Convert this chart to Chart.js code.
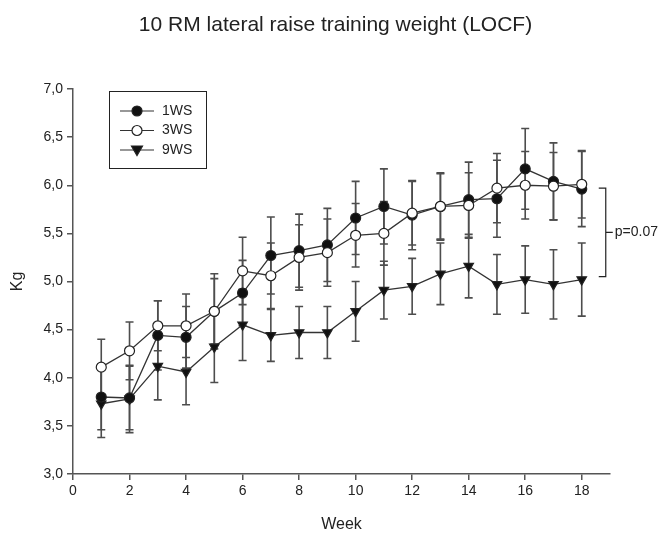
<!DOCTYPE html>
<html><head><meta charset="utf-8">
<script src="https://cdn.jsdelivr.net/npm/chart.js@4.4.0/dist/chart.umd.min.js"></script>
<style>html,body{margin:0;padding:0;background:#fff;} #wrap{width:671px;height:536px;}</style>
</head><body><div id="wrap"><canvas id="c" width="671" height="536"></canvas></div>
<script>
const weeks = [1,2,3,4,5,6,7,8,9,10,11,12,13,14,15,16,17,18];
const xTicks = [0,2,4,6,8,10,12,14,16,18];
const yTicks = [3.0,3.5,4.0,4.5,5.0,5.5,6.0,6.5,7.0];
const seriesNames = ['1WS','3WS','9WS'];
const mean1WS = [3.80,3.79,4.44,4.42,4.69,4.88,5.27,5.32,5.38,5.66,5.78,5.69,5.78,5.85,5.86,6.17,6.04,5.96];
const err1WS  = [0.34,0.33,0.36,0.32,0.39,0.34,0.40,0.38,0.38,0.38,0.39,0.36,0.35,0.39,0.40,0.42,0.40,0.39];
const mean3WS = [4.11,4.28,4.54,4.54,4.69,5.11,5.06,5.25,5.30,5.48,5.50,5.71,5.78,5.79,5.97,6.00,5.99,6.01];
const err3WS  = [0.29,0.30,0.26,0.33,0.34,0.35,0.34,0.34,0.35,0.33,0.33,0.33,0.34,0.34,0.36,0.35,0.35,0.35];
const mean9WS = [3.73,3.78,4.12,4.06,4.32,4.55,4.44,4.47,4.47,4.69,4.91,4.95,5.08,5.16,4.97,5.02,4.97,5.02];
const err9WS  = [0.35,0.35,0.35,0.34,0.37,0.37,0.27,0.27,0.27,0.31,0.30,0.29,0.32,0.33,0.31,0.35,0.36,0.38];
const chartTitle = '10 RM lateral raise training weight (LOCF)';
const pLabel = 'p=0.07';
const bracketX = 18.85, bracketTop = 5.97, bracketBottom = 5.05;

const FONT = "'Liberation Sans', Arial, sans-serif";
Chart.defaults.font.family = FONT;
Chart.defaults.color = '#222';

const series = [
  {name: seriesNames[0], values: mean1WS, err: err1WS, fill: '#111', style: 'circle', rot: 0, order: 1},
  {name: seriesNames[1], values: mean3WS, err: err3WS, fill: '#fff', style: 'circle', rot: 0, order: 0},
  {name: seriesNames[2], values: mean9WS, err: err9WS, fill: '#111', style: 'triangle', rot: 180, order: 2}
];

const errorBars = {
  id: 'errorBars',
  beforeDatasetsDraw(chart) {
    const {ctx, scales: {x, y}} = chart;
    ctx.save();
    ctx.strokeStyle = '#4d4d4d';
    ctx.lineWidth = 1.6;
    series.forEach(s => {
      s.values.forEach((v, i) => {
        const px = x.getPixelForValue(weeks[i]);
        const yt = y.getPixelForValue(v + s.err[i]);
        const yb = y.getPixelForValue(v - s.err[i]);
        ctx.beginPath();
        ctx.moveTo(px, yt); ctx.lineTo(px, yb);
        ctx.moveTo(px - 4, yt); ctx.lineTo(px + 4, yt);
        ctx.moveTo(px - 4, yb); ctx.lineTo(px + 4, yb);
        ctx.stroke();
      });
    });
    ctx.restore();
  }
};

const extras = {
  id: 'extras',
  afterDraw(chart) {
    const {ctx, scales: {x, y}} = chart;
    ctx.save();
    // title centred on the canvas
    ctx.fillStyle = '#222';
    ctx.font = '21px ' + FONT;
    ctx.textAlign = 'center';
    ctx.textBaseline = 'middle';
    ctx.fillText(chartTitle, chart.width / 2, 25);
    // bracket
    const bx = x.getPixelForValue(bracketX);
    const bt = y.getPixelForValue(bracketTop);
    const bb = y.getPixelForValue(bracketBottom);
    const bm = (bt + bb) / 2;
    ctx.strokeStyle = '#222';
    ctx.lineWidth = 1.2;
    ctx.beginPath();
    ctx.moveTo(bx - 7, bt); ctx.lineTo(bx, bt); ctx.lineTo(bx, bb); ctx.lineTo(bx - 7, bb);
    ctx.moveTo(bx, bm); ctx.lineTo(bx + 7, bm);
    ctx.stroke();
    ctx.font = '14px ' + FONT;
    ctx.textAlign = 'left';
    ctx.fillText(pLabel, bx + 9, bm);
    // legend
    const lx = x.left + 36, ly = y.top + 2, lw = 97, lh = 77;
    ctx.strokeStyle = '#222';
    ctx.lineWidth = 1;
    ctx.strokeRect(lx + 0.5, ly + 0.5, lw, lh);
    series.forEach((s, i) => {
      const cy = ly + 20 + i * 19.5;
      const x0 = lx + 11, x1 = lx + 45, cx = lx + 28;
      ctx.strokeStyle = '#333';
      ctx.lineWidth = 1.2;
      ctx.beginPath(); ctx.moveTo(x0, cy); ctx.lineTo(x1, cy); ctx.stroke();
      ctx.fillStyle = s.fill;
      ctx.strokeStyle = '#222';
      ctx.beginPath();
      if (s.style === 'circle') {
        ctx.arc(cx, cy, 5, 0, Math.PI * 2);
      } else {
        ctx.moveTo(cx - 5.5, cy - 4); ctx.lineTo(cx + 5.5, cy - 4); ctx.lineTo(cx, cy + 5.5); ctx.closePath();
      }
      ctx.fill(); ctx.stroke();
      ctx.fillStyle = '#222';
      ctx.font = '14px ' + FONT;
      ctx.textAlign = 'left';
      ctx.textBaseline = 'middle';
      ctx.fillText(s.name, lx + 53, cy);
    });
    ctx.restore();
  }
};

new Chart(document.getElementById('c'), {
  type: 'line',
  data: {
    datasets: series.map(s => ({
      label: s.name,
      data: s.values.map((v, i) => ({x: weeks[i], y: v})),
      borderColor: '#333',
      borderWidth: 1.3,
      backgroundColor: s.fill,
      pointBackgroundColor: s.fill,
      pointBorderColor: '#222',
      pointBorderWidth: 1.2,
      pointStyle: s.style,
      pointRotation: s.rot,
      pointRadius: s.style === 'triangle' ? 5.5 : 5,
      tension: 0,
      fill: false,
      order: s.order
    }))
  },
  options: {
    responsive: false,
    animation: false,
    devicePixelRatio: 1,
    layout: {padding: {left: 0, right: 61, top: 89, bottom: 0}},
    plugins: {
      legend: {display: false},
      tooltip: {enabled: false},
      title: {display: false}
    },
    scales: {
      x: {
        type: 'linear', min: 0, max: 19,
        afterBuildTicks: s => { s.ticks = xTicks.map(v => ({value: v})); },
        afterFit: s => { s.height = 62; },
        ticks: {font: {size: 14}, color: '#222', padding: 3, maxRotation: 0},
        grid: {display: true, drawOnChartArea: false, drawTicks: true, tickLength: 6, color: '#555', lineWidth: 1.5},
        border: {display: true, color: '#555', width: 1.5},
        title: {display: true, text: 'Week', font: {size: 16}, color: '#222', padding: {top: 0, bottom: 2}}
      },
      y: {
        type: 'linear', min: 3, max: 7,
        afterBuildTicks: s => { s.ticks = yTicks.map(v => ({value: v})); },
        afterFit: s => { s.width = 73; },
        ticks: {font: {size: 14}, color: '#222', padding: 4, callback: v => v.toFixed(1).replace('.', ',')},
        grid: {display: true, drawOnChartArea: false, drawTicks: true, tickLength: 6, color: '#555', lineWidth: 1.5},
        border: {display: true, color: '#555', width: 1.5},
        title: {display: true, text: 'Kg', font: {size: 16}, color: '#222', padding: {top: 8, bottom: 0}}
      }
    }
  },
  plugins: [errorBars, extras]
});
</script></body></html>
